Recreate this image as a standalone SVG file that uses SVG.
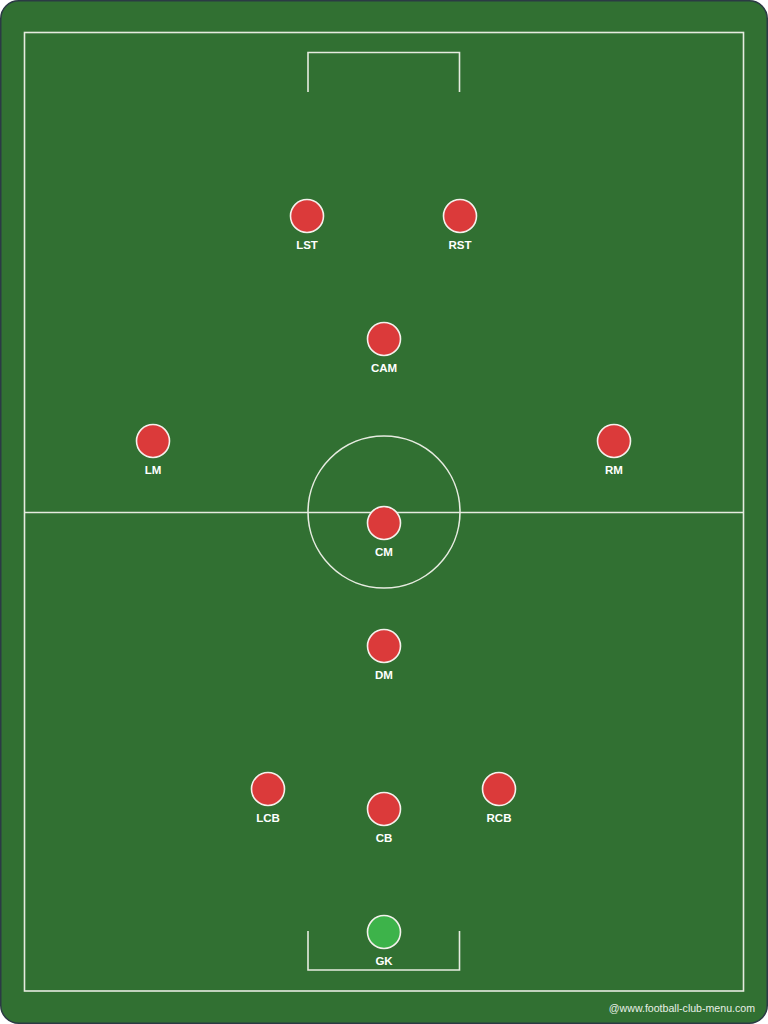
<svg xmlns="http://www.w3.org/2000/svg" width="768" height="1024" viewBox="0 0 768 1024">
<style>
.line{fill:none;stroke:#e6ebe0;stroke-width:1.6}
.p{fill:#db3a3a;stroke:#f4f1ec;stroke-width:1.6}
.gk{fill:#3db34a;stroke:#f4f1ec;stroke-width:1.6}
.lbl{font-family:"Liberation Sans",Arial,sans-serif;font-weight:bold;font-size:11.5px;fill:#ffffff;text-anchor:middle}
.wm{font-family:"Liberation Sans",Arial,sans-serif;font-size:10.6px;fill:#e8efe6;text-anchor:end}
</style>
<rect x="0.75" y="0.75" width="766.5" height="1022.5" rx="18" fill="#317032" stroke="#2b3a44" stroke-width="1.5"/>
<g id="pitch">
<rect class="line" x="24.5" y="32.5" width="719" height="958.5"/>
<line class="line" x1="24.5" y1="512.5" x2="743.5" y2="512.5"/>
<circle class="line" cx="384" cy="512" r="76"/>
<polyline class="line" points="308,92 308,52.5 459.5,52.5 459.5,92"/>
<polyline class="line" points="308,931 308,970 459.5,970 459.5,931"/>
</g>
<g id="connectors"></g>
<g id="LST"><circle class="p" cx="307" cy="216" r="16.5"/><text class="lbl" x="307" y="249">LST</text></g>
<g id="RST"><circle class="p" cx="460" cy="216" r="16.5"/><text class="lbl" x="460" y="249">RST</text></g>
<g id="CAM"><circle class="p" cx="384" cy="339" r="16.5"/><text class="lbl" x="384" y="372">CAM</text></g>
<g id="LM"><circle class="p" cx="153" cy="441" r="16.5"/><text class="lbl" x="153" y="474">LM</text></g>
<g id="RM"><circle class="p" cx="614" cy="441" r="16.5"/><text class="lbl" x="614" y="474">RM</text></g>
<g id="CM"><circle class="p" cx="384" cy="523" r="16.5"/><text class="lbl" x="384" y="556">CM</text></g>
<g id="DM"><circle class="p" cx="384" cy="646" r="16.5"/><text class="lbl" x="384" y="679">DM</text></g>
<g id="LCB"><circle class="p" cx="268" cy="789" r="16.5"/><text class="lbl" x="268" y="822">LCB</text></g>
<g id="CB"><circle class="p" cx="384" cy="809" r="16.5"/><text class="lbl" x="384" y="842">CB</text></g>
<g id="RCB"><circle class="p" cx="499" cy="789" r="16.5"/><text class="lbl" x="499" y="822">RCB</text></g>
<g id="GK"><circle class="gk" cx="384" cy="932" r="16.5"/><text class="lbl" x="384" y="965">GK</text></g>
<text class="wm" x="755" y="1012">@www.football-club-menu.com</text>
</svg>
